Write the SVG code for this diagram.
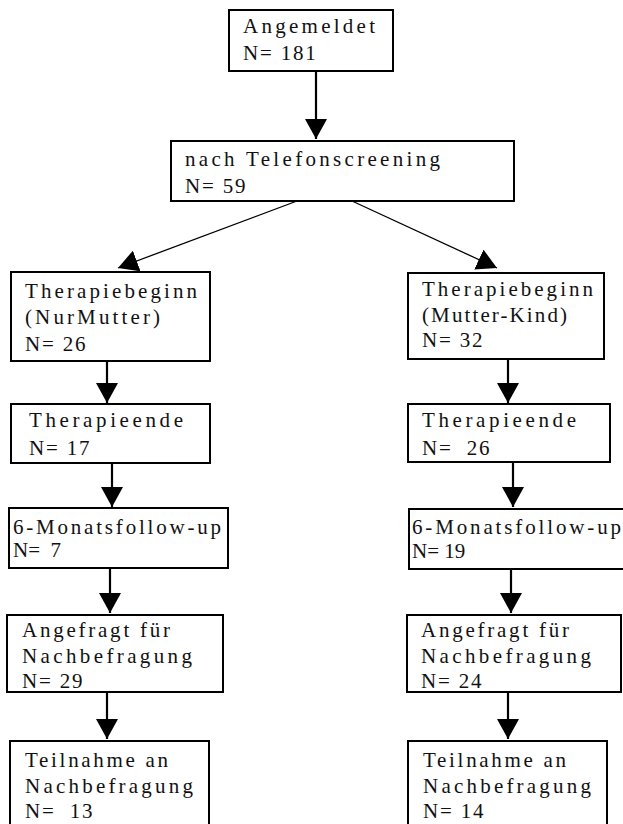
<svg xmlns="http://www.w3.org/2000/svg" width="623" height="824" viewBox="0 0 623 824">
<style>
.box{fill:#fff;stroke:#000;stroke-width:2}
.t{font-family:"Liberation Serif","Times New Roman",serif;font-size:21px;fill:#111}
.n{letter-spacing:1.8px}
.v{stroke:#000;stroke-width:2.2;fill:none}
.d{stroke:#000;stroke-width:1.3;fill:none}
</style>
<defs>
<marker id="ah" markerUnits="userSpaceOnUse" markerWidth="22" markerHeight="22" refX="20" refY="11" orient="auto">
<path d="M0,0 L20,11 L0,22 Z" fill="#000"/>
</marker>
</defs>
<rect width="623" height="824" fill="#fff"/>
<g id="connectors">
<line class="v" x1="316" y1="71" x2="316" y2="139" marker-end="url(#ah)"/>
<line class="d" x1="297" y1="201" x2="118" y2="268" marker-end="url(#ah)"/>
<line class="d" x1="352" y1="201" x2="497" y2="268" marker-end="url(#ah)"/>
<line class="v" x1="107" y1="361" x2="107" y2="403" marker-end="url(#ah)"/>
<line class="v" x1="112" y1="463" x2="112" y2="507" marker-end="url(#ah)"/>
<line class="v" x1="110" y1="568" x2="110" y2="613" marker-end="url(#ah)"/>
<line class="v" x1="107" y1="692" x2="107" y2="739" marker-end="url(#ah)"/>
<line class="v" x1="508" y1="359" x2="508" y2="403" marker-end="url(#ah)"/>
<line class="v" x1="513" y1="462" x2="513" y2="507" marker-end="url(#ah)"/>
<line class="v" x1="511" y1="569" x2="511" y2="613" marker-end="url(#ah)"/>
<line class="v" x1="508" y1="692" x2="508" y2="739" marker-end="url(#ah)"/>
</g>
<g id="angemeldet">
<rect class="box" x="229" y="10" width="164" height="61"/>
<text class="t" x="243" y="33" textLength="132">Angemeldet</text>
<text class="t n" x="243" y="60">N= 181</text>
</g>
<g id="telefonscreening">
<rect class="box" x="171" y="141" width="343" height="60"/>
<text class="t" x="185" y="166" textLength="255">nach Telefonscreening</text>
<text class="t n" x="185" y="193">N= 59</text>
</g>
<g id="therapiebeginn-nur-mutter">
<rect class="box" x="11" y="272" width="199" height="89"/>
<text class="t" x="25" y="298" textLength="172">Therapiebeginn</text>
<text class="t" x="25" y="324" textLength="135">(NurMutter)</text>
<text class="t n" x="25" y="351">N= 26</text>
</g>
<g id="therapiebeginn-mutter-kind">
<rect class="box" x="408" y="273" width="196" height="86"/>
<text class="t" x="422" y="296" textLength="171">Therapiebeginn</text>
<text class="t" x="422" y="322" textLength="145">(Mutter-Kind)</text>
<text class="t n" x="422" y="347">N= 32</text>
</g>
<g id="therapieende-links">
<rect class="box" x="11" y="404" width="199" height="59"/>
<text class="t" x="29" y="427" textLength="154">Therapieende</text>
<text class="t n" x="29" y="455">N= 17</text>
</g>
<g id="therapieende-rechts">
<rect class="box" x="408" y="404" width="202" height="58"/>
<text class="t" x="422" y="427" textLength="154">Therapieende</text>
<text class="t n" x="422" y="455" xml:space="preserve">N=  26</text>
</g>
<g id="followup-links">
<rect class="box" x="9" y="508" width="219" height="60"/>
<text class="t" x="13" y="534" textLength="208">6-Monatsfollow-up</text>
<text class="t" x="13" y="557" xml:space="preserve">N=  7</text>
</g>
<g id="followup-rechts">
<rect class="box" x="409" y="509" width="220" height="60"/>
<text class="t" x="412" y="534" textLength="209">6-Monatsfollow-up</text>
<text class="t" x="412" y="558">N= 19</text>
</g>
<g id="angefragt-links">
<rect class="box" x="7" y="615" width="216" height="77"/>
<text class="t" x="22" y="637" textLength="148">Angefragt für</text>
<text class="t" x="22" y="663" textLength="170">Nachbefragung</text>
<text class="t n" x="22" y="688">N= 29</text>
</g>
<g id="angefragt-rechts">
<rect class="box" x="407" y="615" width="214" height="77"/>
<text class="t" x="421" y="637" textLength="148">Angefragt für</text>
<text class="t" x="421" y="663" textLength="170">Nachbefragung</text>
<text class="t n" x="421" y="688">N= 24</text>
</g>
<g id="teilnahme-links">
<rect class="box" x="10" y="741" width="199" height="90"/>
<text class="t" x="25" y="767" textLength="143">Teilnahme an</text>
<text class="t" x="25" y="793" textLength="168">Nachbefragung</text>
<text class="t n" x="25" y="818" xml:space="preserve">N=  13</text>
</g>
<g id="teilnahme-rechts">
<rect class="box" x="408" y="741" width="199" height="90"/>
<text class="t" x="423" y="767" textLength="143">Teilnahme an</text>
<text class="t" x="423" y="793" textLength="168">Nachbefragung</text>
<text class="t n" x="423" y="818">N= 14</text>
</g>
</svg>
